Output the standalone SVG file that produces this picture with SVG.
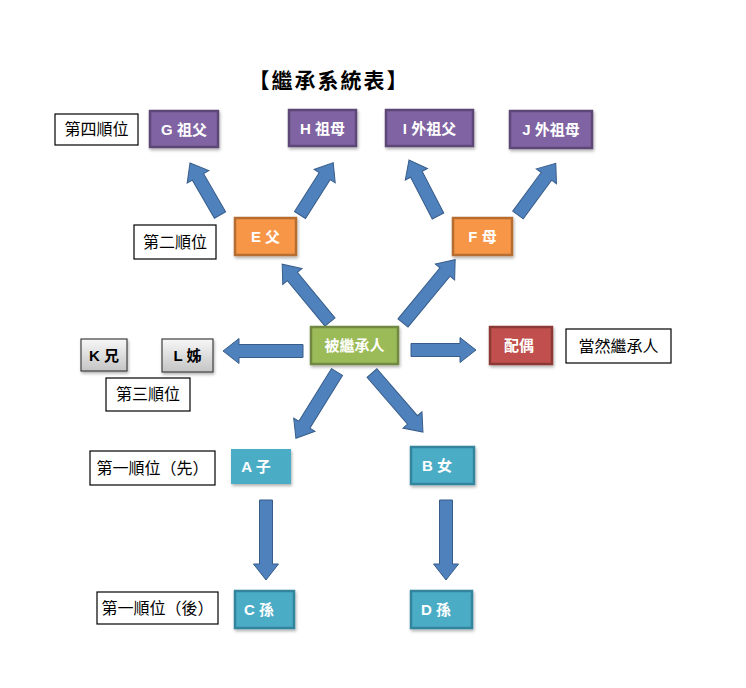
<svg xmlns="http://www.w3.org/2000/svg" width="746" height="688" viewBox="0 0 746 688">
<defs>
<linearGradient id="gray" x1="0" y1="0" x2="0" y2="1">
<stop offset="0" stop-color="#f7f7f7"/>
<stop offset="1" stop-color="#c4c4c4"/>
</linearGradient>
<filter id="sh" x="-20%" y="-20%" width="150%" height="160%">
<feDropShadow dx="1" dy="2" stdDeviation="1.5" flood-color="#000" flood-opacity="0.3"/>
</filter>
</defs>
<style>
.lbl{fill:#fff;stroke:#000;stroke-width:1.2}
.lt{font-family:"Liberation Sans","Noto Sans CJK TC",sans-serif;font-size:16px;fill:#000;text-anchor:middle;dominant-baseline:central}
.nt{font-family:"Liberation Sans","Noto Sans CJK TC",sans-serif;font-size:15px;font-weight:bold;fill:#fff;text-anchor:middle;dominant-baseline:central}
.gt{fill:#000}
.pur{fill:#8064A2;stroke:#5C4776;stroke-width:2.5}
.org{fill:#F79646;stroke:#B66D31;stroke-width:2.5}
.grn{fill:#9BBB59;stroke:#71893F;stroke-width:2.5}
.red{fill:#C0504D;stroke:#8C3836;stroke-width:2.5}
.tel{fill:#4BACC6;stroke:#31859C;stroke-width:2.5}
.tel0{fill:#4BACC6}
.gry{fill:url(#gray);stroke:#404040;stroke-width:1.2}
.arr{fill:#4F81BD;stroke:#385D8A;stroke-width:1}
</style>
<rect width="746" height="688" fill="#fff"/>
<text x="329" y="79" font-family="'Noto Sans CJK TC',sans-serif" font-size="21" font-weight="bold" letter-spacing="2" text-anchor="middle" dominant-baseline="central" fill="#000">【繼承系統表】</text>

<g id="connectors">
<path class="arr" transform="translate(330,322) rotate(-129.6)" d="M0,-6.5 L59,-6.5 L59,-12.5 L75,0 L59,12.5 L59,6.5 L0,6.5 Z"/>
<path class="arr" transform="translate(403,323) rotate(-50.5)" d="M0,-6.5 L66,-6.5 L66,-12.5 L82,0 L66,12.5 L66,6.5 L0,6.5 Z"/>
<path class="arr" transform="translate(220,215) rotate(-120)" d="M0,-6.5 L44,-6.5 L44,-12.5 L60,0 L44,12.5 L44,6.5 L0,6.5 Z"/>
<path class="arr" transform="translate(300,215) rotate(-57.6)" d="M0,-6.5 L46,-6.5 L46,-12.5 L62,0 L46,12.5 L46,6.5 L0,6.5 Z"/>
<path class="arr" transform="translate(438,216) rotate(-117.4)" d="M0,-6.5 L47,-6.5 L47,-12.5 L63,0 L47,12.5 L47,6.5 L0,6.5 Z"/>
<path class="arr" transform="translate(518,215) rotate(-53.8)" d="M0,-6.5 L48,-6.5 L48,-12.5 L64,0 L48,12.5 L48,6.5 L0,6.5 Z"/>
<path class="arr" transform="translate(303,351) rotate(180)" d="M0,-6.5 L64,-6.5 L64,-12.5 L80,0 L64,12.5 L64,6.5 L0,6.5 Z"/>
<path class="arr" transform="translate(411,350)" d="M0,-6.5 L49,-6.5 L49,-12.5 L65,0 L49,12.5 L49,6.5 L0,6.5 Z"/>
<path class="arr" transform="translate(337,372) rotate(121.8)" d="M0,-6.5 L62,-6.5 L62,-12.5 L78,0 L62,12.5 L62,6.5 L0,6.5 Z"/>
<path class="arr" transform="translate(372,373) rotate(49.2)" d="M0,-6.5 L62,-6.5 L62,-12.5 L78,0 L62,12.5 L62,6.5 L0,6.5 Z"/>
<path class="arr" transform="translate(266,500) rotate(90)" d="M0,-6.5 L64,-6.5 L64,-12.5 L80,0 L64,12.5 L64,6.5 L0,6.5 Z"/>
<path class="arr" transform="translate(446,500) rotate(90)" d="M0,-6.5 L64,-6.5 L64,-12.5 L80,0 L64,12.5 L64,6.5 L0,6.5 Z"/>
</g>

<g id="lbl4"><rect class="lbl" x="55" y="114" width="83" height="31"/><text class="lt" x="96.5" y="129.5">第四順位</text></g>
<g id="G"><rect class="pur" x="150" y="111" width="68" height="36" filter="url(#sh)"/><text class="nt" x="184" y="129">G 祖父</text></g>
<g id="H"><rect class="pur" x="289" y="110" width="67" height="36" filter="url(#sh)"/><text class="nt" x="322.5" y="128">H 祖母</text></g>
<g id="I"><rect class="pur" x="386" y="110" width="87" height="36" filter="url(#sh)"/><text class="nt" x="429.5" y="128">I 外祖父</text></g>
<g id="J"><rect class="pur" x="510" y="111" width="82" height="37" filter="url(#sh)"/><text class="nt" x="551" y="129.5">J 外祖母</text></g>

<g id="lbl2"><rect class="lbl" x="134" y="225" width="82" height="34"/><text class="lt" x="175" y="242">第二順位</text></g>
<g id="E"><rect class="org" x="235" y="218" width="61" height="37" filter="url(#sh)"/><text class="nt" x="265.5" y="236.5">E 父</text></g>
<g id="F"><rect class="org" x="453" y="218" width="59" height="37" filter="url(#sh)"/><text class="nt" x="482.5" y="236.5">F 母</text></g>

<g id="self"><rect class="grn" x="311" y="327" width="87" height="37" filter="url(#sh)"/><text class="nt" x="354.5" y="345.5" font-weight="normal" font-size="16">被繼承人</text></g>
<g id="spouse"><rect class="red" x="490" y="327" width="62" height="37" filter="url(#sh)"/><text class="nt" x="519" y="345.5" font-weight="normal" font-size="16">配偶</text></g>
<g id="lblsp"><rect class="lbl" x="566" y="329" width="105" height="34"/><text class="lt" x="618.5" y="346">當然繼承人</text></g>

<g id="K"><rect class="gry" x="81" y="339" width="46" height="32" filter="url(#sh)"/><text class="nt gt" x="104" y="355">K 兄</text></g>
<g id="L"><rect class="gry" x="162" y="339" width="51" height="33" filter="url(#sh)"/><text class="nt gt" x="187.5" y="355.5">L 姊</text></g>
<g id="lbl3"><rect class="lbl" x="106" y="378" width="84" height="33"/><text class="lt" x="148" y="394.5">第三順位</text></g>

<g id="lbl1a"><rect class="lbl" x="90" y="451" width="125" height="34"/><text class="lt" x="152.5" y="468">第一順位（先）</text></g>
<g id="A"><rect class="tel0" x="231" y="449" width="60" height="35" filter="url(#sh)"/><text class="nt" x="256" y="466">A 子</text></g>
<g id="B"><rect class="tel" x="411" y="447" width="63" height="37" filter="url(#sh)"/><text class="nt" x="437" y="465">B 女</text></g>

<g id="lbl1b"><rect class="lbl" x="97" y="592" width="121" height="32"/><text class="lt" x="157.5" y="608">第一順位（後）</text></g>
<g id="C"><rect class="tel" x="235" y="591" width="59" height="37" filter="url(#sh)"/><text class="nt" x="259" y="609.5">C 孫</text></g>
<g id="D"><rect class="tel" x="411" y="591" width="61" height="37" filter="url(#sh)"/><text class="nt" x="436" y="609.5">D 孫</text></g>
</svg>
